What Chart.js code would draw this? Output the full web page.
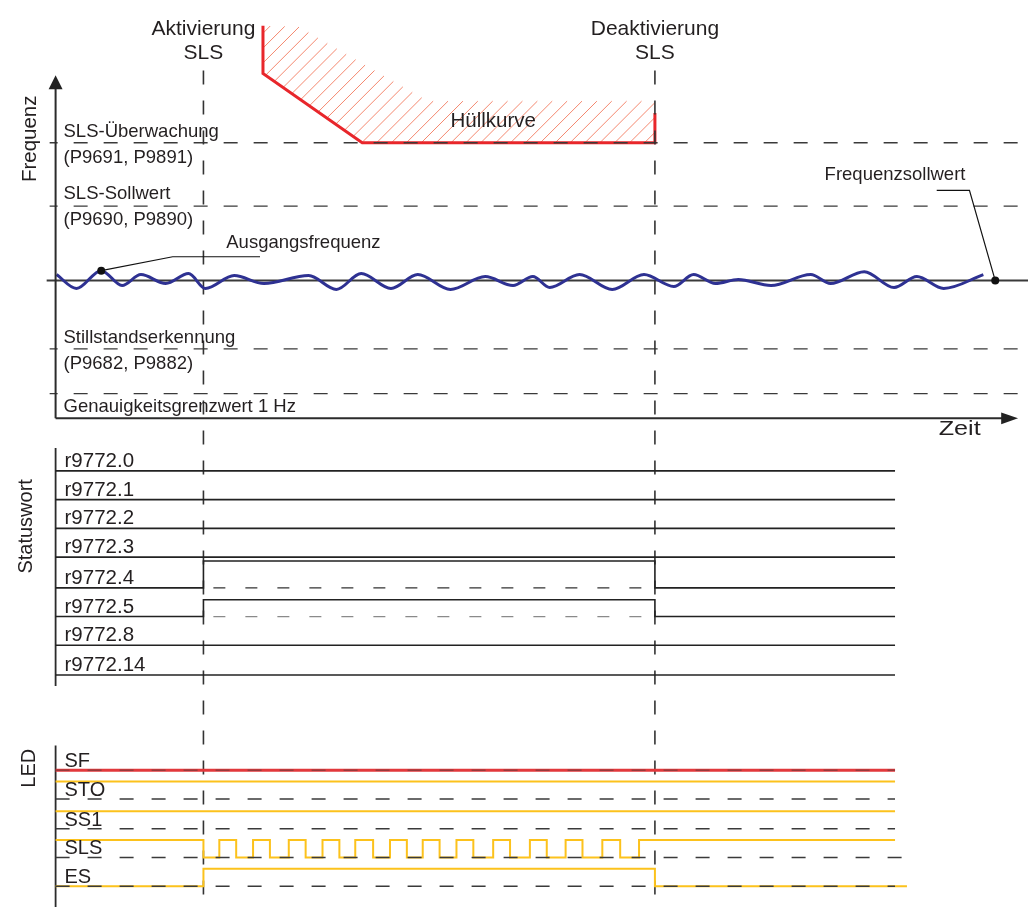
<!DOCTYPE html>
<html>
<head>
<meta charset="utf-8">
<script src="https://cdn.jsdelivr.net/npm/chart.js@4.4.0/dist/chart.umd.min.js"></script>
<style>
  html, body { margin: 0; padding: 0; background: #fff; }
  #wrap { width: 1032px; height: 911px; position: relative; }
</style>
</head>
<body>
<div id="wrap"><canvas id="chart"></canvas></div>
<script>
// ---- data ----
// diagram units: x = time, y = level (top of diagram = 0)
const eventTimes = [201, 656];                       // Aktivierung, Deaktivierung
const eventTitles = [['Aktivierung', 'SLS'], ['Deaktivierung', 'SLS']];

const freqLevelNames = [
  ['SLS-Überwachung', '(P9691, P9891)'],
  ['SLS-Sollwert', '(P9690, P9890)'],
  ['Stillstandserkennung', '(P9682, P9882)'],
  ['Genauigkeitsgrenzwert 1 Hz']
];
const freqLevels = [140, 204, 348, 393];
const freqSetpoint = 279;

// Ausgangsfrequenz (extrema of the wavy trace)
const outX = [53, 73, 98, 119, 138, 163, 186, 203, 232, 262, 307, 335, 360, 390, 417, 450, 485, 513, 533, 550,
              580, 613, 645, 675, 695, 717, 740, 773, 813, 833, 867, 897, 920, 947, 987];
const outY = [273, 287, 269, 284, 273, 282, 272, 287, 274, 282, 274, 288, 272, 287, 273, 288, 275, 284, 275, 286,
              273, 288, 273, 285, 273, 282, 278, 284, 273, 282, 270, 286, 275, 287, 273];

// Hüllkurve
const envTopX = [261, 297, 427, 656];
const envTopY = [22, 23, 98, 98];
const envX = [261, 261, 361, 656, 656];
const envY = [22, 70, 140, 140, 110];

// Statuswort
const statusNames = ['r9772.0', 'r9772.1', 'r9772.2', 'r9772.3', 'r9772.4', 'r9772.5', 'r9772.8', 'r9772.14'];
const statusActive = [0, 0, 0, 0, 1, 1, 0, 0];       // bit value while SLS is active

// LED
const ledNames = ['SF', 'STO', 'SS1', 'SLS', 'ES'];
const ledBefore = [0, 1, 1, 1, 0];
const ledDuring = [0, 1, 1, -1, 1];                  // -1 = flashing
const ledAfter = [0, 1, 1, 1, 0];
const slsRise = [217, 251, 287, 321, 354, 389, 422, 456, 493, 530, 566, 603, 640];
const slsFall = [234, 268, 304, 338, 372, 406, 439, 473, 510, 547, 583, 621];

// ---- layout ----
const axisX = 52;
const timeAxisY = 418;
const traceEnd = 898;
const hatchStep = 15;
const statusRowY = [471, 500, 529, 558, 589, 618, 647, 677];
const statusAmp = [0, 0, 0, 0, 27, 17, 0, 0];
const ledRowY = [773, 802, 832, 861, 890];
const ledAmp = 17.5;
const ledColors = ['#e2383c', '#fcc21c', '#fcc21c', '#fcc21c', '#fcc21c'];

const dark = '#2b2b2b';
const ds = [];

function pts(xs, ys) { return xs.map((x, i) => ({ x, y: ys[i] })); }
function addLine(xs, ys, opts) {
  ds.push(Object.assign({
    data: pts(xs, ys),
    borderColor: dark, borderWidth: 1.5, pointRadius: 0, fill: false,
    tension: 0, clip: false
  }, opts || {}));
}

// envelope hatch: diagonal strokes clipped to the area between envTop and env
const polyX = envTopX.concat(envX.slice().reverse());
const polyY = envTopY.concat(envY.slice().reverse());
const sums = polyX.map((x, i) => x + polyY[i]);
for (let c = Math.min(...sums) + hatchStep / 2; c < Math.max(...sums); c += hatchStep) {
  const hits = [];
  for (let i = 0; i < polyX.length - 1; i++) {
    const s1 = sums[i] - c, s2 = sums[i + 1] - c;
    if ((s1 < 0 && s2 >= 0) || (s1 >= 0 && s2 < 0)) {
      const t = s1 / (s1 - s2);
      hits.push(polyX[i] + t * (polyX[i + 1] - polyX[i]));
    }
  }
  hits.sort((a, b) => a - b);
  for (let k = 0; k + 1 < hits.length; k += 2) {
    addLine([hits[k], hits[k + 1]], [c - hits[k], c - hits[k + 1]], { borderColor: '#f4876e', borderWidth: 1 });
  }
}
addLine(envX, envY, { borderColor: '#e8262b', borderWidth: 3 });

// frequency panel: dashed thresholds and setpoint line
freqLevels.forEach(v => addLine([46, 1032], [v, v], { borderDash: [14, 16], borderDashOffset: 6, borderWidth: 1.3, borderColor: '#3a3a3a' }));
addLine([43, 1032], [freqSetpoint, freqSetpoint], { borderWidth: 2, borderColor: '#3a3a3a' });

// event markers
eventTimes.forEach(t => addLine([t, t], [67, 911], { borderDash: [14, 16], borderWidth: 1.6, borderColor: '#333' }));

// output frequency
addLine(outX, outY, { borderColor: '#2e3192', borderWidth: 3, cubicInterpolationMode: 'monotone' });

// axes + arrowheads
addLine([axisX, axisX], [timeAxisY, 84], { borderWidth: 2 });
addLine([axisX - 7, axisX, axisX + 7, axisX - 7], [86, 72, 86, 86], { borderWidth: 0, fill: 'shape', backgroundColor: '#222' });
addLine([axisX, 1008], [timeAxisY, timeAxisY], { borderWidth: 2 });
addLine([1005, 1022, 1005, 1005], [412, timeAxisY, 424, 412], { borderWidth: 0, fill: 'shape', backgroundColor: '#222' });

// leaders
addLine([outX[2], 170, 258], [outY[2], 255, 255], { borderWidth: 1.2, borderColor: '#111' });
addLine([999, 973, 940], [freqSetpoint, 188, 188], { borderWidth: 1.2, borderColor: '#111' });
addLine([outX[2], 999], [outY[2], freqSetpoint], { showLine: false, pointRadius: 4, pointBackgroundColor: '#111', pointBorderWidth: 0 });

// status word
addLine([axisX, axisX], [448, 688], { borderWidth: 1.8 });
statusNames.forEach((n, i) => {
  const lo = statusRowY[i];
  const hi = lo - statusAmp[i] * statusActive[i];
  if (statusActive[i]) {
    addLine([eventTimes[0] + 10, eventTimes[1] - 6], [lo, lo], { borderDash: [12, 20], borderWidth: 1.3, borderColor: i === 5 ? '#8a8a8a' : '#333' });
  }
  addLine([axisX, eventTimes[0], eventTimes[1], traceEnd], [lo, hi, lo, lo], { stepped: true, borderWidth: 1.6, borderColor: '#222' });
});

// LED
addLine([axisX, axisX], [748, 911], { borderWidth: 1.8 });
ledNames.forEach((n, i) => {
  const base = ledRowY[i];
  const lvl = s => base - ledAmp * s;
  let xs, ys;
  if (ledDuring[i] === -1) {
    xs = [axisX, eventTimes[0]];
    ys = [lvl(ledBefore[i]), lvl(0)];
    slsRise.forEach((r, k) => {
      xs.push(r); ys.push(lvl(1));
      if (k < slsFall.length) { xs.push(slsFall[k]); ys.push(lvl(0)); }
    });
    xs.push(traceEnd); ys.push(lvl(ledAfter[i]));
  } else {
    const end = ledAfter[i] === 0 && ledDuring[i] === 1 ? 910 : traceEnd;
    xs = [axisX, eventTimes[0], eventTimes[1], end];
    ys = [lvl(ledBefore[i]), lvl(ledDuring[i]), lvl(ledAfter[i]), lvl(ledAfter[i])];
  }
  addLine(xs, ys, { stepped: true, borderWidth: i === 0 ? 3 : 2, borderColor: ledColors[i] });
  addLine([axisX, i === 3 ? 905 : traceEnd], [base, base], { borderDash: [14, 18], borderWidth: 1.5, borderColor: i === 0 ? 'rgba(60,60,60,0.45)' : '#3a3a3a' });
});

// later datasets paint on top
ds.forEach((d, i) => { d.order = ds.length - i; });

// ---- text ----
function txt(ctx, s, x, y, size, align, opt) {
  opt = opt || {};
  ctx.save();
  ctx.font = size + 'px "Liberation Sans", Arial, sans-serif';
  ctx.fillStyle = '#231f20';
  ctx.textBaseline = 'alphabetic';
  ctx.textAlign = align || 'left';
  ctx.translate(x, y);
  if (opt.rotate) ctx.rotate(opt.rotate);
  if (opt.width) ctx.scale(opt.width / ctx.measureText(s).width, 1);
  ctx.fillText(s, 0, 0);
  ctx.restore();
}

const textPlugin = {
  id: 'diagramText',
  afterDatasetsDraw(chart) {
    const ctx = chart.ctx;
    const X = v => chart.scales.x.getPixelForValue(v);
    const Y = v => chart.scales.y.getPixelForValue(v);

    eventTitles.forEach((lines, i) => {
      txt(ctx, lines[0], X(eventTimes[i]), Y(31), 21, 'center');
      txt(ctx, lines[1], X(eventTimes[i]), Y(55), 21, 'center');
    });

    const freqBase = [[134, 160], [197, 223], [342, 368], [412]];
    freqLevelNames.forEach((lines, i) => lines.forEach((s, k) => txt(ctx, s, X(60), Y(freqBase[i][k]), 18.5)));

    txt(ctx, 'Ausgangsfrequenz', X(224), Y(246), 18.5);
    txt(ctx, 'Hüllkurve', X(493), Y(124), 20.5, 'center');
    txt(ctx, 'Frequenzsollwert', X(827), Y(178), 18.5);
    txt(ctx, 'Zeit', X(942), Y(435), 20, 'left', { width: 42 });

    txt(ctx, 'Frequenz', X(32), Y(136), 20.5, 'center', { rotate: -Math.PI / 2 });
    txt(ctx, 'Statuswort', X(28), Y(527), 20, 'center', { rotate: -Math.PI / 2 });
    txt(ctx, 'LED', X(31), Y(771), 20, 'center', { rotate: -Math.PI / 2 });

    statusNames.forEach((s, i) => txt(ctx, s, X(61), Y(statusRowY[i] - 4), 20.5));
    ledNames.forEach((s, i) => txt(ctx, s, X(61), Y(ledRowY[i] - 3), 20));
  }
};

new Chart(document.getElementById('chart'), {
  type: 'line',
  data: { datasets: ds },
  options: {
    responsive: true,
    maintainAspectRatio: false,
    animation: false,
    events: [],
    layout: { padding: 0 },
    plugins: { legend: { display: false }, tooltip: { enabled: false } },
    scales: {
      x: { type: 'linear', min: 0, max: 1032, display: false },
      y: { type: 'linear', min: 0, max: 911, reverse: true, display: false }
    }
  },
  plugins: [textPlugin]
});
</script>
</body>
</html>
